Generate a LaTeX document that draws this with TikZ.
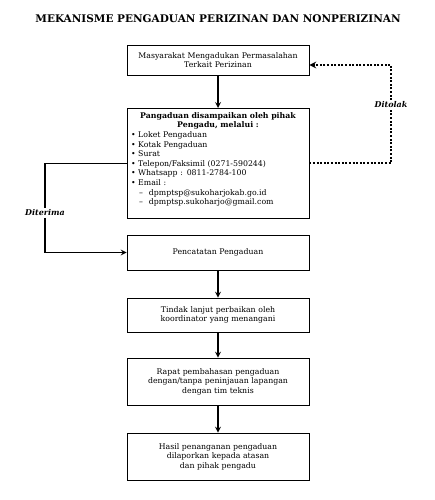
\documentclass[tikz,border=0pt]{standalone}
\usepackage{fontspec}
\setmainfont{DejaVu Serif}
\begin{document}
\begin{tikzpicture}[x=1pt, y=-1pt, >=stealth,
    kotak/.style={draw, line width=0.7pt, minimum width=182pt, text width=174pt,
      align=center, inner sep=4pt, font=\fontsize{7.8}{9.6}\selectfont},
    panah/.style={->, line width=1.6pt},
    titik/.style={line width=2pt, dash pattern=on 2pt off 1.6pt},
    ket/.style={font=\fontsize{8}{9.6}\selectfont\bfseries\itshape, fill=white, inner sep=1.5pt}]
    \useasboundingbox (0,0) rectangle (434,500);
    % 題名
    \node[font=\fontsize{10.5}{12}\selectfont\bfseries] (judul) at (218,19)
      {MEKANISME PENGADUAN PERIZINAN DAN NONPERIZINAN};
    % 各段の枠
    \node[kotak, minimum height=30pt] (masyarakat) at (218,60)
      {Masyarakat Mengadukan Permasalahan\\Terkait Perizinan};
    \node[kotak, anchor=north, align=left] (saluran) at (218,108) {%
      {\centering\bfseries Pangaduan disampaikan oleh pihak\\Pengadu, melalui :\par}
      \textbullet~Loket Pengaduan\\
      \textbullet~Kotak Pengaduan\\
      \textbullet~Surat\\
      \textbullet~Telepon/Faksimil (0271-590244)\\
      \textbullet~Whatsapp : 0811-2784-100\\
      \textbullet~Email :\\
      \hspace*{8pt}--\hspace*{6pt}dpmptsp@sukoharjokab.go.id\\
      \hspace*{8pt}--\hspace*{6pt}dpmptsp.sukoharjo@gmail.com\par
      \mbox{}};
    \node[kotak, minimum height=35pt] (catat) at (218,252.5) {Pencatatan Pengaduan};
    \node[kotak, minimum height=34pt] (tindak) at (218,315)
      {Tindak lanjut perbaikan oleh\\koordinator yang menangani};
    \node[kotak, minimum height=47pt] (rapat) at (218,381.5)
      {Rapat pembahasan pengaduan\\dengan/tanpa peninjauan lapangan\\dengan tim teknis};
    \node[kotak, minimum height=47pt] (hasil) at (218,456.5)
      {Hasil penanganan pengaduan\\dilaporkan kepada atasan\\dan pihak pengadu};
    % 縦の矢印
    \draw[panah] (masyarakat) -- (saluran);
    \draw[panah] (catat) -- (tindak);
    \draw[panah] (tindak) -- (rapat);
    \draw[panah] (rapat) -- (hasil);
    % 却下（点線）
    \node[ket] (tolak) at (391,105) {Ditolak};
    \draw[titik] (saluran.east) -| (tolak.south);
    \draw[titik, ->] (tolak.north) |- ([yshift=-5pt]masyarakat.east);
    % 受理
    \node[ket] (terima) at (45,213) {Diterima};
    \draw[line width=1.6pt] (saluran.west) -| (terima.north);
    \draw[panah] (terima.south) |- (catat.west);
\end{tikzpicture}
\end{document}
